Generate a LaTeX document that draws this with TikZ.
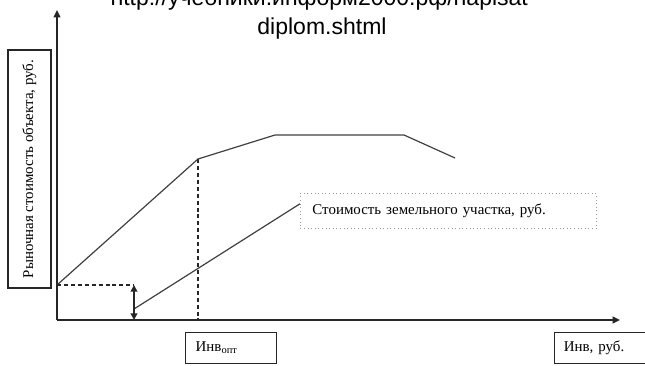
\documentclass[tikz,border=0pt]{standalone}
\usepackage{fontspec}
\setmainfont{Liberation Serif}
\newfontfamily\urlfont{Liberation Sans}
\usetikzlibrary{arrows.meta,calc}
\begin{document}
\begin{tikzpicture}[x=0.75pt,y=-0.75pt,
  lbl/.style={font=\fontsize{11.2pt}{13pt}\selectfont},
  urltext/.style={font=\urlfont\fontsize{17.25pt}{21pt}\selectfont, anchor=base, inner sep=0pt},
  axis/.style={line width=1.1pt, draw=black!85, -{Triangle[length=5.5pt,width=5pt]}},
  curve/.style={line width=0.9pt, draw=black!75},
  guide/.style={line width=0.9pt, draw=black!85, dash pattern=on 3pt off 2.2pt},
  dbl/.style={line width=1.4pt, draw=black!85, {Triangle[length=5pt,width=5pt]}-{Triangle[length=5pt,width=5pt]}},
  frame/.style={draw=black!85, line width=0.8pt, inner sep=0pt}
]
\useasboundingbox (0,0) rectangle (645,366);
\clip (0,0) rectangle (645,366);

% URL text
\node[urltext] (url1) at (323,6) {http://учебники.информ2000.рф/napisat-};
\node[urltext] (url2) at (322,35) {diplom.shtml};

% axes
\coordinate (O) at (57,320);
\coordinate (ytip) at (57,10);
\coordinate (xtip) at (620,320);
\draw[axis] (O) -- (ytip);
\draw[axis] (O) -- (xtip);

% y label box
\node[frame, lbl, rotate=90, minimum width=178.5pt, minimum height=32.25pt] (ylab) at (29.5,169)
  {Рыночная стоимость объекта, руб.};

% market value curve
\coordinate (p0) at (57,285);
\coordinate (p1) at (198,159);
\coordinate (p2) at (275,135);
\coordinate (p3) at (404,135);
\coordinate (p4) at (455,158);
\draw[curve] (p0) -- (p1) -- (p2) -- (p3) -- (p4);

% land value label and line
\node[draw=black!40, dotted, line width=0.7pt, lbl, anchor=north west,
      minimum width=222pt, minimum height=26.25pt, inner xsep=9pt, text width=204pt, align=left]
  (land) at (300,193) {Стоимость земельного участка, руб.};
\coordinate (q0) at (134,309);
\draw[curve] (q0) -- ($(land.north west)!0.3!(land.south west)$);

% guides
\draw[guide] (p1) -- (p1 |- O);
\coordinate (h1) at (134,285);
\draw[guide] (p0) -- (h1);
\draw[dbl] (h1) -- (h1 |- O);

% x labels
\node[frame, lbl, anchor=north west, minimum width=68.25pt, minimum height=23.25pt,
      inner xsep=7.5pt, text width=53pt, align=left] (opt) at (185,332)
  {Инв\textsubscript{опт}};
\node[frame, lbl, anchor=north west, minimum width=75pt, minimum height=23.25pt,
      inner xsep=7pt, text width=61pt, align=left] (inv) at (554,332)
  {Инв, руб.};
\end{tikzpicture}
\end{document}
